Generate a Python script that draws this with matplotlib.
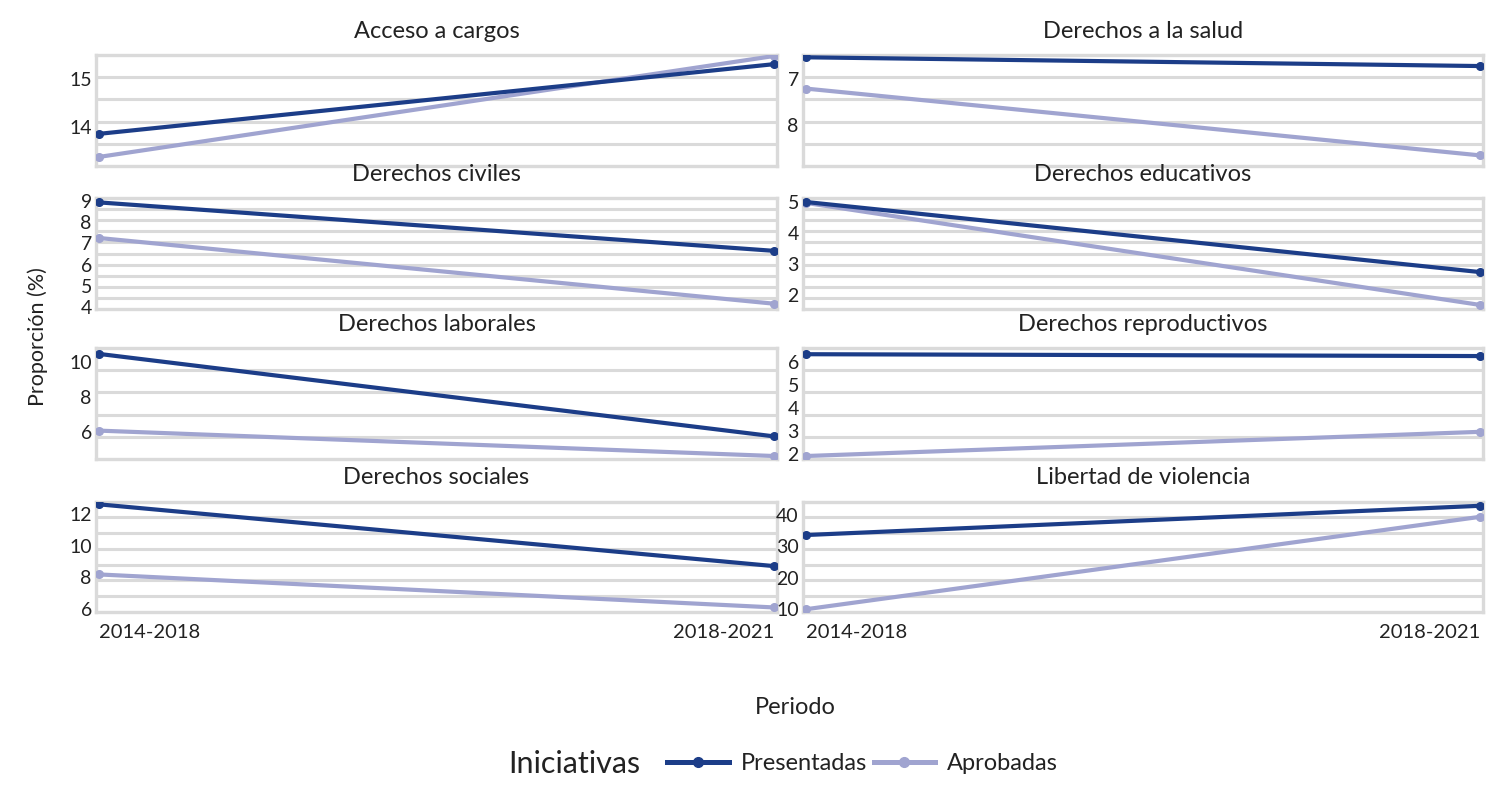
import matplotlib.pyplot as plt
from matplotlib.lines import Line2D

plt.rcParams['font.family'] = ['Lato', 'DejaVu Sans']

# Data
categorias = ["Acceso a cargos", "Derechos a la salud",
              "Derechos civiles", "Derechos educativos",
              "Derechos laborales", "Derechos reproductivos",
              "Derechos sociales", "Libertad de violencia"]
periodos = ["2014-2018", "2018-2021"]
presentadas = [[13.86, 15.31], [6.53, 6.72], [8.95, 6.65], [4.99, 2.73],
               [10.44, 5.73], [6.33, 6.25], [12.64, 8.71], [33.6, 42.9]]
aprobadas = [[13.38, 15.48], [7.21, 8.66], [7.26, 4.14], [4.96, 1.67],
             [6.06, 4.61], [1.91, 2.96], [8.18, 6.08], [10.0, 39.4]]
yticks = [[14, 15], [7, 8], [4, 5, 6, 7, 8, 9], [2, 3, 4, 5],
          [6, 8, 10], [2, 3, 4, 5, 6], [6, 8, 10, 12], [10, 20, 30, 40]]
ylims = [(13.19, 15.50), (8.89, 6.48), (3.89, 9.16), (1.54, 5.12),
         (4.44, 10.78), (1.78, 6.60), (5.81, 12.81), (9.2, 44.2)]

# style
c_pres = '#1c3d88'
c_apr = '#a0a4d0'
grid_c = '#dadada'
txt_c = '#222222'
row_divs = [5, 10, 5, 7]

fig = plt.figure(figsize=(15.03, 7.86), dpi=100)
W, H = 1503, 786
cols_px = [(96, 777), (803, 1483)]
rows_px = [(55, 166), (198, 309), (348, 459), (501.7, 611.7)]

for i, cat in enumerate(categorias):
    r, c = divmod(i, 2)
    x0, x1 = cols_px[c]
    top, bot = rows_px[r]
    ax = fig.add_axes([x0 / W, 1 - bot / H, (x1 - x0) / W, (bot - top) / H])

    xs = range(len(periodos))
    ax.plot(xs, aprobadas[i], color=c_apr, lw=3, marker='o', ms=5.5,
            solid_capstyle='round', zorder=3)
    ax.plot(xs, presentadas[i], color=c_pres, lw=3, marker='o', ms=5.5,
            solid_capstyle='round', zorder=4)

    ax.set_xlim(-0.005, 1.004)
    ax.set_ylim(*ylims[i])

    # background grid lines (evenly spaced per row)
    n = row_divs[r]
    lo, hi = ylims[i]
    for k in range(1, n):
        ax.axhline(lo + (hi - lo) * k / n, color=grid_c, lw=2.2, zorder=1)

    for sp in ax.spines.values():
        sp.set_color(grid_c)
        sp.set_linewidth(2.4)

    ax.set_yticks(yticks[i])
    ax.set_yticklabels([str(t) for t in yticks[i]])
    ax.tick_params(axis='y', length=0, pad=3, labelsize=14, labelcolor=txt_c)
    ax.set_xticks(list(xs))
    if r == 3:
        ax.set_xticklabels(periodos)
        labs = ax.get_xticklabels()
        labs[0].set_ha('left')
        labs[1].set_ha('right')
        ax.tick_params(axis='x', length=0, pad=9, labelsize=14.5, labelcolor=txt_c)
    else:
        ax.set_xticklabels([])
        ax.tick_params(axis='x', length=0)

    ax.text(0.5, 1 + 24 / (bot - top), cat, transform=ax.transAxes,
            ha='center', va='center', fontsize=17, color=txt_c)

fig.text(38 / W, 1 - 337 / H, "Proporción (%)", rotation=90,
         ha='center', va='center', fontsize=15.5, color=txt_c)
fig.text(795 / W, 1 - 707 / H, "Periodo", ha='center', va='center',
         fontsize=17, color=txt_c)

# legend
fig.text(508 / W, 1 - 764 / H, "Iniciativas", ha='left', va='center',
         fontsize=22, color=txt_c)
handles = [Line2D([], [], color=c_pres, lw=3.6, marker='o', ms=7),
           Line2D([], [], color=c_apr, lw=3.6, marker='o', ms=7)]
fig.legend(handles, ["Presentadas", "Aprobadas"], loc='center left',
           bbox_to_anchor=(646 / W, 1 - 764 / H), ncol=2, frameon=False,
           fontsize=17, handlelength=2.6, handletextpad=0.5,
           columnspacing=0.3, labelcolor=txt_c)

plt.savefig("out.png", dpi=100)
